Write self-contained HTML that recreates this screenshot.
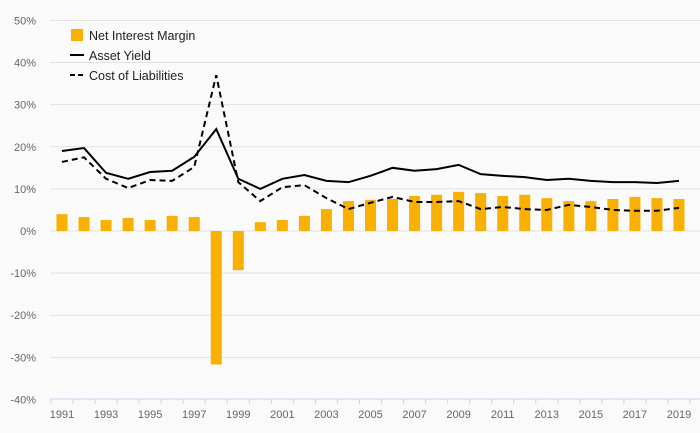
<!DOCTYPE html>
<html><head><meta charset="utf-8"><style>
html,body{margin:0;padding:0;background:#fafafa;}
svg{display:block;font-family:"Liberation Sans",sans-serif;}
</style></head><body>
<svg id="chart" width="700" height="433">
<rect width="700" height="433" fill="#fafafa"/>
<g id="grid"></g><g id="bars"></g><g id="lines"></g><g id="axes"></g>
<g>
<rect x="71" y="29" width="12" height="12" fill="#f9b000"/>
<text x="89" y="40" font-size="12.5" fill="#222">Net Interest Margin</text>
<line x1="70" y1="55" x2="84" y2="55" stroke="#000" stroke-width="2"/>
<text x="89" y="60" font-size="12.5" fill="#222">Asset Yield</text>
<line x1="70" y1="75" x2="84" y2="75" stroke="#000" stroke-width="2" stroke-dasharray="5,3"/>
<text x="89" y="80" font-size="12.5" fill="#222">Cost of Liabilities</text>
</g>
</svg>
<script>
const years=[1991,1992,1993,1994,1995,1996,1997,1998,1999,2000,2001,2002,2003,2004,2005,2006,2007,2008,2009,2010,2011,2012,2013,2014,2015,2016,2017,2018,2019];
const nim=[4.0,3.3,2.6,3.1,2.6,3.6,3.3,-31.7,-9.3,2.1,2.6,3.6,5.2,7.1,7.4,7.6,8.3,8.6,9.3,9.0,8.3,8.6,7.8,7.1,7.1,7.6,8.1,7.8,7.6];
const assetYield=[19.0,19.7,13.8,12.4,14.0,14.3,17.6,24.2,12.4,10.0,12.4,13.3,11.9,11.6,13.1,15.0,14.3,14.7,15.7,13.5,13.1,12.8,12.1,12.4,11.9,11.6,11.6,11.4,11.9];
const costLiab=[16.4,17.5,12.4,10.2,12.1,11.9,15.2,37.0,11.6,7.1,10.4,10.9,7.8,5.2,6.7,8.1,6.9,6.9,7.1,5.2,5.7,5.2,5.0,6.2,5.7,5.0,4.8,4.8,5.5];
const yTicks=[50,40,30,20,10,0,-10,-20,-30,-40];
const NS="http://www.w3.org/2000/svg";
const x=i=>62+i*(617/28);
const y=v=>231-v*4.211;
function mk(t,a,p){const e=document.createElementNS(NS,t);for(const k in a)e.setAttribute(k,a[k]);document.getElementById(p).appendChild(e);return e;}
yTicks.forEach(v=>{
 if(v>-40){const l=mk('line',{x1:50,x2:700,y1:y(v),y2:y(v),stroke:'#e2e2e2'},'grid');
 
 }
 const t=mk('text',{x:36,y:y(v)+4,'text-anchor':'end','font-size':11,fill:'#666'},'axes');
 t.textContent=v+'%';
 
 
});
const ax=mk('line',{x1:50,x2:700,y1:399,y2:399,stroke:'#c8d6f0'},'axes');


years.forEach((yr,i)=>{
 const tk=mk('line',{x1:x(i)-11,x2:x(i)-11,y1:399,y2:404,stroke:'#c8d6f0'},'axes');
 
 
 if(i%2===0){const t=mk('text',{x:x(i),y:418,'text-anchor':'middle','font-size':11,fill:'#666'},'axes');
 t.textContent=yr;
 
 }
 const v=nim[i];
 const b=mk('rect',{x:x(i)-5.5,width:11,y:Math.min(y(v),y(0)),height:Math.abs(y(v)-y(0)),fill:'#f9b000'},'bars');
 
 
});
const tk2=mk('line',{x1:690,x2:690,y1:399,y2:404,stroke:'#c8d6f0'},'axes');


const p1=mk('polyline',{points:assetYield.map((v,i)=>x(i)+','+y(v)).join(' '),fill:'none',stroke:'#000','stroke-width':2},'lines');


const p2=mk('polyline',{points:costLiab.map((v,i)=>x(i)+','+y(v)).join(' '),fill:'none',stroke:'#000','stroke-width':2,'stroke-dasharray':'6,4'},'lines');


</script>
</body></html>
